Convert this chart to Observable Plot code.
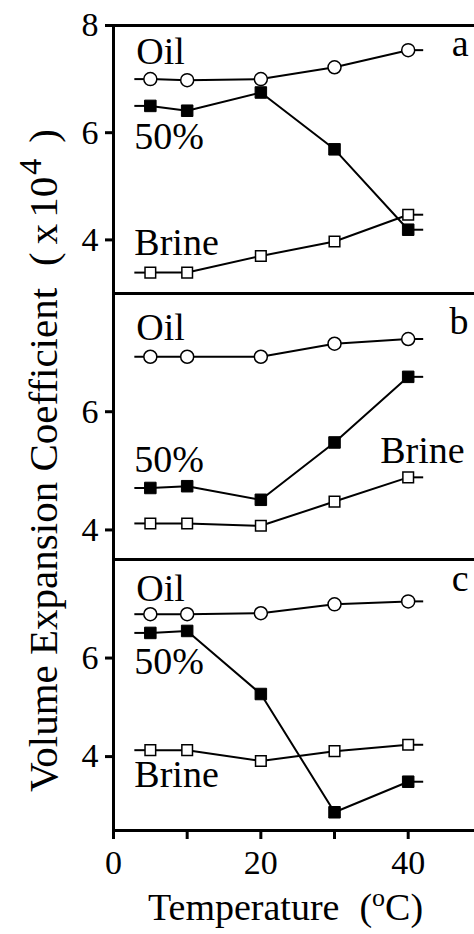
<!DOCTYPE html>
<html>
<head>
<meta charset="utf-8">
<script src="https://cdn.jsdelivr.net/npm/d3@7"></script>
<script src="https://cdn.jsdelivr.net/npm/@observablehq/plot@0.6"></script>
<style>
  body { margin: 0; background: #fff; }
  #chart { position: relative; width: 474px; height: 934px; overflow: hidden; background: #fff; }
  #chart svg { position: absolute; left: 0; }
</style>
</head>
<body>
<div id="chart"></div>
<script>
// Temperatures (°C) at which the coefficients were measured
const temps = [5, 10, 20, 30, 40];
const seriesNames = ["Oil", "50%", "Brine"];
const panelLetters = ["a", "b", "c"];

// Volume expansion coefficients (x 10^4), panel a
const oilA   = [7.00, 6.98, 7.00, 7.22, 7.54];
const mixA   = [6.50, 6.41, 6.75, 5.69, 4.19];
const brineA = [3.39, 3.39, 3.70, 3.97, 4.47];
// panel b
const oilB   = [6.93, 6.93, 6.93, 7.15, 7.23];
const mixB   = [4.71, 4.74, 4.51, 5.48, 6.59];
const brineB = [4.11, 4.11, 4.07, 4.48, 4.89];
// panel c
const oilC   = [6.89, 6.89, 6.91, 7.09, 7.15];
const mixC   = [6.51, 6.55, 5.27, 2.87, 3.49];
const brineC = [4.13, 4.13, 3.91, 4.11, 4.24];

// Axis ticks
const yTicksA = [4, 6, 8];
const yTicksB = [4, 6];
const yTicksC = [4, 6];
const xTicks = [0, 10, 20, 30, 40];
const xTickLabels = ["0", "", "20", "", "40"];

const FONT = "Liberation Serif";
const W = 474;

// Short line stubs drawn out of the first / last marker of each curve
const stubLeft = {draw(ctx, size) { const r = Math.sqrt(size / Math.PI); ctx.moveTo(0, 0); ctx.lineTo(-r, 0); }};
const stubRight = {draw(ctx, size) { const r = Math.sqrt(size / Math.PI); ctx.moveTo(0, 0); ctx.lineTo(r, 0); }};

// Marker look per series: open circle, filled square, open square
const markerStyles = [
  {symbol: "circle", r: 6.5, fill: "white", stroke: "black", strokeWidth: 1.5},
  {symbol: "square", r: 6.5, fill: "black", stroke: "black", strokeWidth: 1},
  {symbol: "square", r: 6.0, fill: "white", stroke: "black", strokeWidth: 1.5}
];

// Panel layout; label placement is relative to the first (or last) point of a curve
const panels = [
  {letter: panelLetters[0], series: [oilA, mixA, brineA], yDomain: [3, 8], yTicks: yTicksA,
   top: 0, marginTop: 25, frame: 268, marginBottom: 10, letterDy: 30,
   labels: [{at: 0, dx: -14, dy: -15}, {at: 0, dx: -16, dy: 43}, {at: 0, dx: -16, dy: -18}]},
  {letter: panelLetters[1], series: [oilB, mixB, brineB], yDomain: [3.5, 8], yTicks: yTicksB,
   top: 283, marginTop: 10, frame: 266, marginBottom: 10, letterDy: 40,
   labels: [{at: 0, dx: -14, dy: -17}, {at: 0, dx: -16, dy: -16}, {at: 4, dx: -28, dy: -14}]},
  {letter: panelLetters[2], series: [oilC, mixC, brineC], yDomain: [2.5, 8], yTicks: yTicksC,
   top: 549, marginTop: 10, frame: 271, marginBottom: 104, letterDy: 31, xAxis: true,
   labels: [{at: 0, dx: -14, dy: -13}, {at: 0, dx: -16, dy: 41}, {at: 0, dx: -16, dy: 37}]}
];

const chart = document.getElementById("chart");

for (const p of panels) {
  const marks = [];
  // frame lines: left edge and top edge (plus the bottom edge on the last panel)
  marks.push(Plot.ruleX([0], {stroke: "black", strokeWidth: 3}));
  marks.push(Plot.ruleY([p.yDomain[1]], {stroke: "black", strokeWidth: 3}));
  if (p.xAxis) marks.push(Plot.ruleY([p.yDomain[0]], {stroke: "black", strokeWidth: 3}));

  p.series.forEach((values, i) => {
    const rows = temps.map((t, j) => ({t, v: values[j], name: seriesNames[i]}));
    const first = rows[0], last = rows[rows.length - 1];
    marks.push(Plot.line(rows, {x: "t", y: "v", stroke: "black", strokeWidth: 2}));
    marks.push(Plot.dot([first], {x: "t", y: "v", symbol: stubLeft, r: 16, fill: "none", stroke: "black", strokeWidth: 2}));
    marks.push(Plot.dot([last], {x: "t", y: "v", symbol: stubRight, r: 15, fill: "none", stroke: "black", strokeWidth: 2}));
    marks.push(Plot.dot(rows, {x: "t", y: "v", ...markerStyles[i]}));
    const lab = p.labels[i];
    marks.push(Plot.text([rows[lab.at]], {
      x: "t", y: "v", text: "name", dx: lab.dx, dy: lab.dy,
      textAnchor: "start", lineAnchor: "bottom",
      fontSize: 38, fontFamily: FONT, fill: "black"
    }));
  });

  marks.push(Plot.text([p.letter], {
    text: d => d, frameAnchor: "top-right", dx: -6, dy: p.letterDy,
    textAnchor: "end", lineAnchor: "bottom", fontSize: 38, fontFamily: FONT, fill: "black"
  }));

  marks.push(Plot.axisY({
    ticks: p.yTicks, tickSize: 8, tickPadding: 7, strokeWidth: 3,
    fontSize: 34, fontFamily: FONT, label: null, tickFormat: d => String(d)
  }));
  if (p.xAxis) {
    marks.push(Plot.axisX({
      ticks: xTicks, tickSize: 9, tickPadding: 10, strokeWidth: 3,
      fontSize: 34, fontFamily: FONT, label: null,
      tickFormat: d => xTickLabels[xTicks.indexOf(d)]
    }));
  }

  const svg = Plot.plot({
    width: W,
    height: p.marginTop + p.frame + p.marginBottom,
    marginLeft: 113,
    marginRight: 0,
    marginTop: p.marginTop,
    marginBottom: p.marginBottom,
    x: {domain: [0, 49], axis: p.xAxis ? undefined : null},
    y: {domain: p.yDomain},
    style: {background: "transparent", overflow: "visible", color: "black"},
    marks
  });
  svg.style.top = p.top + "px";
  chart.appendChild(svg);
}

// Axis titles
const overlay = d3.create("svg")
  .attr("width", W).attr("height", 934)
  .style("top", "0px").style("pointer-events", "none");

const yTitle = overlay.append("text")
  .attr("transform", "translate(57,792) rotate(-90)")
  .attr("font-family", FONT)
  .attr("font-size", 41).attr("fill", "black");
yTitle.append("tspan").text("Volume Expansion Coefficient");
yTitle.append("tspan").attr("dx", 22).text("(");
yTitle.append("tspan").attr("dx", 8).text("x");
yTitle.append("tspan").attr("dx", 6).text("10");
yTitle.append("tspan").attr("dy", -16).attr("dx", 2).attr("font-size", 32).text("4");
yTitle.append("tspan").attr("dy", 16).attr("dx", 16).text(")");

const xTitle = overlay.append("text")
  .attr("x", 148).attr("y", 920)
  .attr("font-family", FONT)
  .attr("font-size", 38).attr("fill", "black");
xTitle.append("tspan").text("Temperature");
xTitle.append("tspan").attr("dx", 20).text("(");
xTitle.append("tspan").attr("dy", -14).attr("font-size", 26).text("o");
xTitle.append("tspan").attr("dy", 14).text("C)");

chart.appendChild(overlay.node());
</script>
</body>
</html>
